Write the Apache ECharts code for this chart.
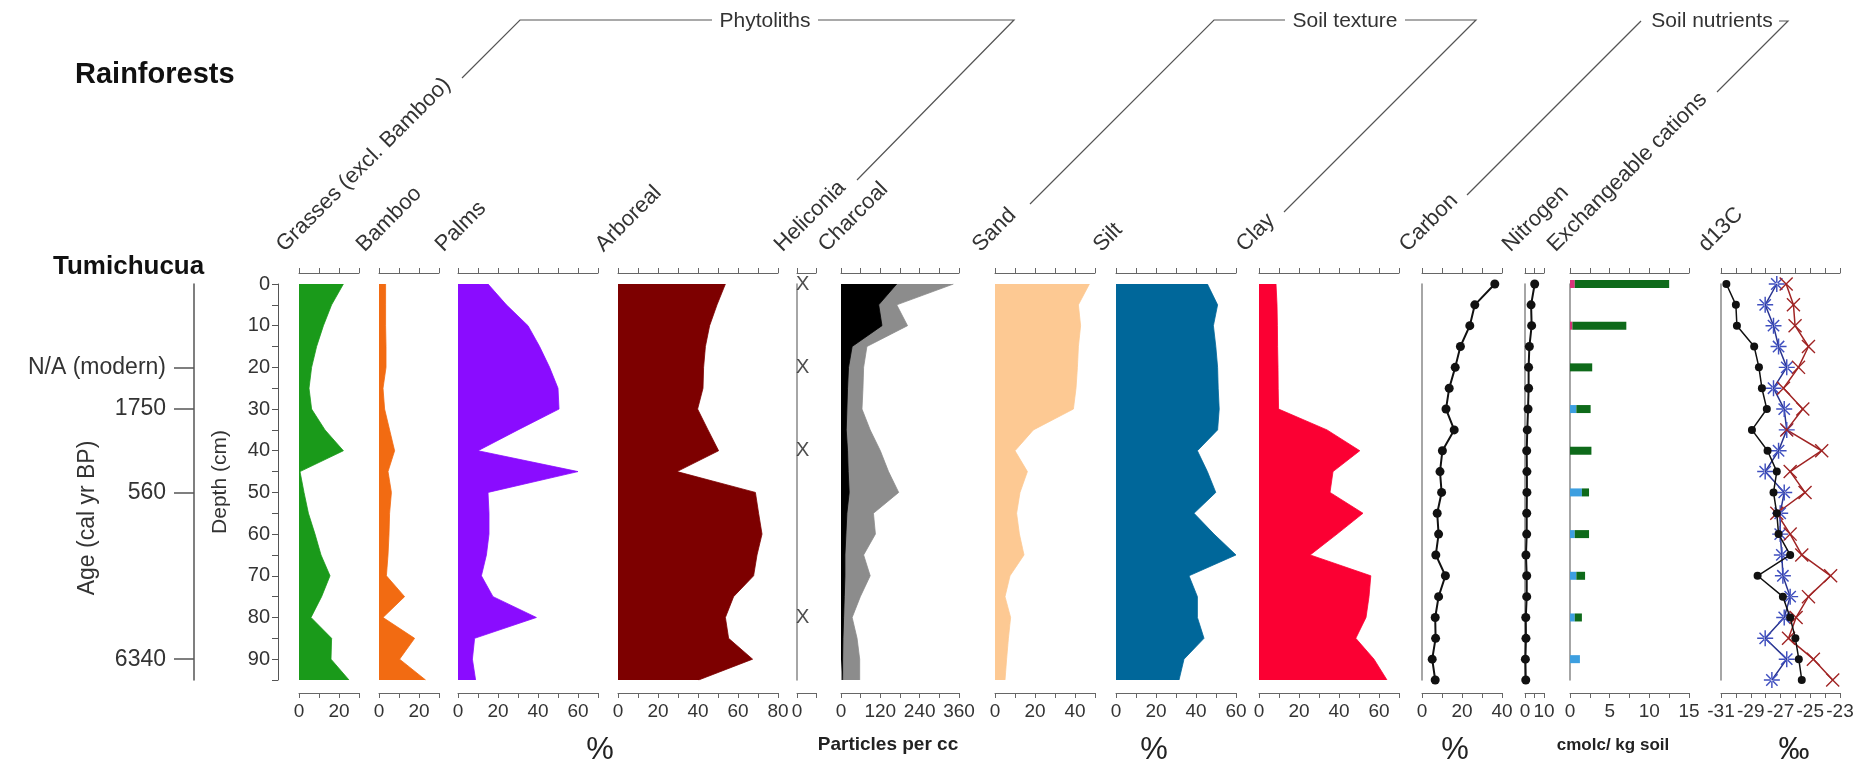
<!DOCTYPE html>
<html><head><meta charset="utf-8">
<script src="https://cdn.jsdelivr.net/npm/echarts@6/dist/echarts.min.js"></script>
<style>html,body{margin:0;padding:0;background:#fff}#c{width:1872px;height:770px}</style>
</head><body><div id="c"></div>
<script>
// ---------------- DATA ----------------
const depths = ['0','5','10','15','20','25','30','35','40','45','50','55','60','65','70','75','80','85','90','95'];
const grasses   = [22.2,16.3,12.2,8.8,6.3,5,6.3,13,22.2,0.5,2.5,4.7,8,11,15.5,11.3,6,16.3,16,25];
const bamboo    = [3.3,3.3,3.3,3.5,3.5,2,2.8,5.3,7.8,4.5,6.2,5.3,5,4.5,3.7,12.8,2,17.8,10.3,23.3];
const palms     = [15,24.2,35,40.8,45.8,50,50.5,30,10,60,15,15.5,15.5,14.2,11.7,17.5,39.2,8.3,7.2,8.8];
const arboreal  = [53.7,49.5,45.8,43.7,42.8,42.5,39.8,45,50.3,29.5,68.7,70.3,72,69.5,67.8,57.8,53.7,55.3,67.3,40.3];
const heliconiaDepths = [0,20,40,80];
const heliconiaValue = 3;
const charcoalTotal = [343,170,203,79,69,67,64,89,120,145,176,99,105,69,89,59,34,49,57,57];
const charcoalBlack = [170,115,125,34,23,20,18,16,20,22,25,18,15,12,12,10,8,6,5,5];
const sand  = [47.2,41.7,42.8,41.7,41.2,40.5,39.2,19.2,10,16.2,12.5,10.8,12.2,14.5,7.5,5,7.8,6.7,5.8,5];
const silt  = [45.7,50.8,48.7,49.9,50.8,51.1,51.6,50.8,40.7,45.7,49.9,39,49,60,36.5,40.7,40.7,44,34,31.5];
const clay  = [8.5,9,9.2,9.3,9.5,9.6,9.8,34,50.4,37,35.5,52,39,25.6,55.9,55,53.5,48.4,57.5,64];
const carbon   = [36.4,26.4,23.9,19.2,16.6,13.6,12,16.1,10.2,9,9.8,7.6,8.3,6.9,11.7,8.3,6.6,6.8,5.1,6.6];
const nitrogen = [5.1,3.2,3.5,2.3,1.9,1.9,1.6,1.2,0.9,1,1,0.9,0.9,0.5,0.9,0.9,0.4,0.5,0.2,0.4];
const cationDepths = [0,10,20,30,40,50,60,70,80,90];
const cationPink  = [0.6,0.3,0,0,0,0,0,0,0,0];
const cationBlue  = [0,0,0,0.8,0,1.5,0.6,0.8,0.6,1.25];
const cationGreen = [11.9,6.8,2.8,1.8,2.7,0.9,1.8,1.1,0.9,0];
const d13cBlack = [-30.64,-30.0,-29.93,-28.77,-28.45,-28.25,-27.92,-28.92,-27.87,-27.25,-27.47,-27.25,-27.13,-26.35,-28.54,-26.84,-26.35,-26.0,-25.77,-25.57];
const d13cBlue  = [-27.25,-28.03,-27.47,-27.13,-26.58,-27.47,-26.75,-26.58,-27.13,-28.03,-26.75,-27.02,-27.02,-26.91,-26.84,-26.35,-26.75,-28.03,-26.58,-27.58];
const d13cRed   = [-26.62,-26.13,-26.02,-25.12,-25.79,-26.8,-25.5,-26.58,-24.23,-26.35,-25.35,-27.25,-26.35,-25.57,-23.63,-25.12,-25.95,-26.46,-24.79,-23.49];
const ageDepths = [20,30,50,90];
const ageLabels = ['N/A (modern)','1750','560','6340'];
const headers = ['Grasses (excl. Bamboo)','Bamboo','Palms','Arboreal','Heliconia','Charcoal','Sand','Silt','Clay','Carbon','Nitrogen','Exchangeable cations','d13C'];
const axisMin  = [0,0,0,0,0,0,0,0,0,0,0,0,-31];
const axisMax  = [30,30,70,80,10,360,50,60,70,40,10,15,-23];
const axisStep = [10,10,10,10,10,60,10,10,10,10,5,2.5,1];
const labelStep= [20,20,20,20,20,120,20,20,20,20,10,5,2];

// ---------------- LAYOUT ----------------
const FONT = 'Liberation Sans, Arial, Helvetica, sans-serif';
const gLeft  = [299,379,458,618,797,841,995,1116,1259,1422,1525,1570,1721];
const gWidth = [60,60,140,160,19,118,100,120,140,80,19,119,119];
const gTop = 284, gHeight = 396;
const showYLine = [false,false,false,false,true,false,false,false,false,true,true,true,true];

const grids = [], xAxes = [], yAxes = [];
for (let i = 0; i < gLeft.length; i++) {
  grids.push({left: gLeft[i], width: gWidth[i], top: gTop, height: gHeight});
  const mn = axisMin[i], st = labelStep[i];
  const base = {
    gridIndex: i, type: 'value', min: axisMin[i], max: axisMax[i], interval: axisStep[i],
    splitLine: {show: false},
    axisLine: {show: true, onZero: false, lineStyle: {color: '#666', width: 1}},
    axisTick: {show: true, length: 5, lineStyle: {color: '#666'}},
  };
  xAxes.push(Object.assign({}, base, {
    position: 'bottom', offset: 13,
    axisLabel: {show: true, fontSize: 19, fontFamily: FONT, color: '#333', margin: 9,
      formatter: v => {
        if (i === 4) return v === 0 ? '0' : '';
        const r = Math.abs((v - mn) / st - Math.round((v - mn) / st));
        return r < 1e-6 ? String(v) : '';
      }}
  }));
  xAxes.push(Object.assign({}, base, {position: 'top', offset: 11, axisLabel: {show: false}}));
  yAxes.push({
    gridIndex: i, type: 'category', data: depths, inverse: true, boundaryGap: false,
    show: showYLine[i],
    axisLine: {show: true, onZero: false, lineStyle: {color: '#888', width: 1.5}},
    axisTick: {show: false}, axisLabel: {show: false}, splitLine: {show: false}
  });
}
// depth axis
yAxes.push({
  gridIndex: 0, type: 'value', position: 'left', offset: 21, min: 0, max: 95, interval: 5, inverse: true,
  axisLine: {show: true, onZero: false, lineStyle: {color: '#555'}},
  axisTick: {show: true, length: 6, lineStyle: {color: '#555'}},
  axisLabel: {fontSize: 20, fontFamily: FONT, color: '#333', margin: 8, formatter: v => (v % 10 === 0 ? String(v) : '')},
  splitLine: {show: false}
});
// age axis
yAxes.push({
  gridIndex: 0, type: 'value', position: 'left', offset: 105, min: 0, max: 95, inverse: true,
  axisLine: {show: true, onZero: false, lineStyle: {color: '#555', width: 1.5}},
  axisTick: {show: true, length: 20, customValues: ageDepths, lineStyle: {color: '#555', width: 1.5}},
  axisLabel: {fontSize: 23, fontFamily: FONT, color: '#333', margin: 28, customValues: ageDepths,
    formatter: v => { const k = ageDepths.indexOf(v); return k >= 0 ? ageLabels[k] : ''; }},
  splitLine: {show: false}
});

function area(i, data, color, z) {
  return {type: 'line', xAxisIndex: 2 * i, yAxisIndex: i, data: data, symbol: 'none', silent: true,
    z: z || 2, lineStyle: {width: 0.8, color: color}, areaStyle: {color: color, opacity: 1}};
}
function dotLine(i, data) {
  return {type: 'line', xAxisIndex: 2 * i, yAxisIndex: i, data: data, symbol: 'circle', symbolSize: 9,
    showAllSymbol: true, clip: false, lineStyle: {color: '#111', width: 2}, itemStyle: {color: '#111'}};
}
const byDepth = (dep, vals) => depths.map(d => { const k = dep.indexOf(+d); return k >= 0 ? vals[k] : '-'; });

// filled 8-spoke asterisk and X glyph shapes
const ASTERISK = 'path://M9.1,0L10.9,0L10.9,20L9.1,20Z M0,9.1L20,9.1L20,10.9L0,10.9Z ' +
  'M16.43,17.71L17.71,16.43L3.57,2.29L2.29,3.57Z M17.71,3.57L16.43,2.29L2.29,16.43L3.57,17.71Z';
const CROSS = 'path://M0,1.4L1.4,0L10,8.6L18.6,0L20,1.4L11.4,10L20,18.6L18.6,20L10,11.4L1.4,20L0,18.6L8.6,10Z';

const series = [
  area(0, grasses, '#1a9a1a'),
  area(1, bamboo, '#f26b12'),
  area(2, palms, '#8a0cff'),
  area(3, arboreal, '#7d0000'),
  {type: 'scatter', xAxisIndex: 8, yAxisIndex: 4, silent: true, z: 5,
    data: heliconiaDepths.map(d => [heliconiaValue, String(d)]),
    symbol: 'circle', symbolSize: 2, itemStyle: {color: 'rgba(0,0,0,0)'},
    label: {show: true, position: 'inside', formatter: 'X', fontSize: 20, fontFamily: FONT, color: '#222'}},
  area(5, charcoalTotal, '#8c8c8c', 2),
  area(5, charcoalBlack, '#000000', 3),
  area(6, sand, '#fdc993'),
  area(7, silt, '#00679a'),
  area(8, clay, '#fb0033'),
  dotLine(9, carbon),
  dotLine(10, nitrogen),
  {type: 'bar', xAxisIndex: 22, yAxisIndex: 11, stack: 'c', barWidth: 8, data: byDepth(cationDepths, cationPink), itemStyle: {color: '#d9337a'}},
  {type: 'bar', xAxisIndex: 22, yAxisIndex: 11, stack: 'c', barWidth: 8, data: byDepth(cationDepths, cationBlue), itemStyle: {color: '#3d9fe0'}},
  {type: 'bar', xAxisIndex: 22, yAxisIndex: 11, stack: 'c', barWidth: 8, data: byDepth(cationDepths, cationGreen), itemStyle: {color: '#0e6a1a'}},
  {type: 'line', xAxisIndex: 24, yAxisIndex: 12, data: d13cBlack, symbol: 'circle', symbolSize: 8, clip: false, z: 4,
    showAllSymbol: true, lineStyle: {color: '#111', width: 1.5}, itemStyle: {color: '#111'}},
  {type: 'line', xAxisIndex: 24, yAxisIndex: 12, data: d13cBlue, clip: false, z: 3,
    symbol: ASTERISK, symbolSize: 16, showAllSymbol: true,
    lineStyle: {color: '#2a3590', width: 1.5}, itemStyle: {color: '#3f4fbf', borderWidth: 0}},
  {type: 'line', xAxisIndex: 24, yAxisIndex: 12, data: d13cRed, clip: false, z: 3,
    symbol: CROSS, symbolSize: 14, showAllSymbol: true,
    lineStyle: {color: '#a02424', width: 1.5}, itemStyle: {color: '#a02424', borderWidth: 0}}
];

// ---------------- GRAPHICS ----------------
const graphic = [];
const txt = (x, y, text, o) => graphic.push(Object.assign({type: 'text', x: x, y: y, silent: true,
  style: Object.assign({text: text, fontFamily: FONT, fontSize: 21, fill: '#222', align: 'center', verticalAlign: 'middle'}, (o && o.style) || {})},
  o && o.rotation ? {rotation: o.rotation} : {}));
const line = pts => graphic.push({type: 'polyline', silent: true, shape: {points: pts}, style: {stroke: '#555', lineWidth: 1.2, fill: null}});

txt(75, 75, 'Rainforests', {style: {fontSize: 29, fontWeight: 'bold', align: 'left', fill: '#111'}});
txt(53, 267, 'Tumichucua', {style: {fontSize: 26, fontWeight: 'bold', align: 'left', fill: '#111'}});
txt(88, 518, 'Age (cal yr BP)', {rotation: Math.PI / 2, style: {fontSize: 23, fill: '#333'}});
txt(220, 482, 'Depth (cm)', {rotation: Math.PI / 2, style: {fontSize: 21, fill: '#333'}});

for (let i = 0; i < headers.length; i++) {
  txt(gLeft[i] - 11, 256, headers[i], {rotation: Math.PI / 4, style: {fontSize: 22, align: 'left', verticalAlign: 'bottom', fill: '#333'}});
}

// group brackets
line([[462, 78], [520, 20], [712, 20]]);
line([[818, 20], [1014, 20], [857, 180]]);
line([[1030, 204], [1214, 20], [1285, 20]]);
line([[1405, 20], [1476, 20], [1284, 212]]);
line([[1467, 195], [1641, 21]]);
line([[1779, 21], [1788, 21], [1717, 92]]);
txt(765, 21, 'Phytoliths', {style: {fill: '#333'}});
txt(1345, 21, 'Soil texture', {style: {fill: '#333'}});
txt(1712, 21, 'Soil nutrients', {style: {fill: '#333'}});

// units
txt(600, 750, '%', {style: {fontSize: 31, fill: '#222'}});
txt(888, 745, 'Particles per cc', {style: {fontSize: 19, fontWeight: 'bold', fill: '#222'}});
txt(1154, 750, '%', {style: {fontSize: 31, fill: '#222'}});
txt(1455, 750, '%', {style: {fontSize: 31, fill: '#222'}});
txt(1613, 745, 'cmolc/ kg soil', {style: {fontSize: 17, fontWeight: 'bold', fill: '#222'}});
txt(1794, 750, '‰', {style: {fontSize: 31, fill: '#222'}});

const chart = echarts.init(document.getElementById('c'), null, {renderer: 'canvas'});
chart.setOption({
  animation: false, backgroundColor: '#fff',
  textStyle: {fontFamily: FONT},
  grid: grids, xAxis: xAxes, yAxis: yAxes, series: series, graphic: graphic
});
</script></body></html>
